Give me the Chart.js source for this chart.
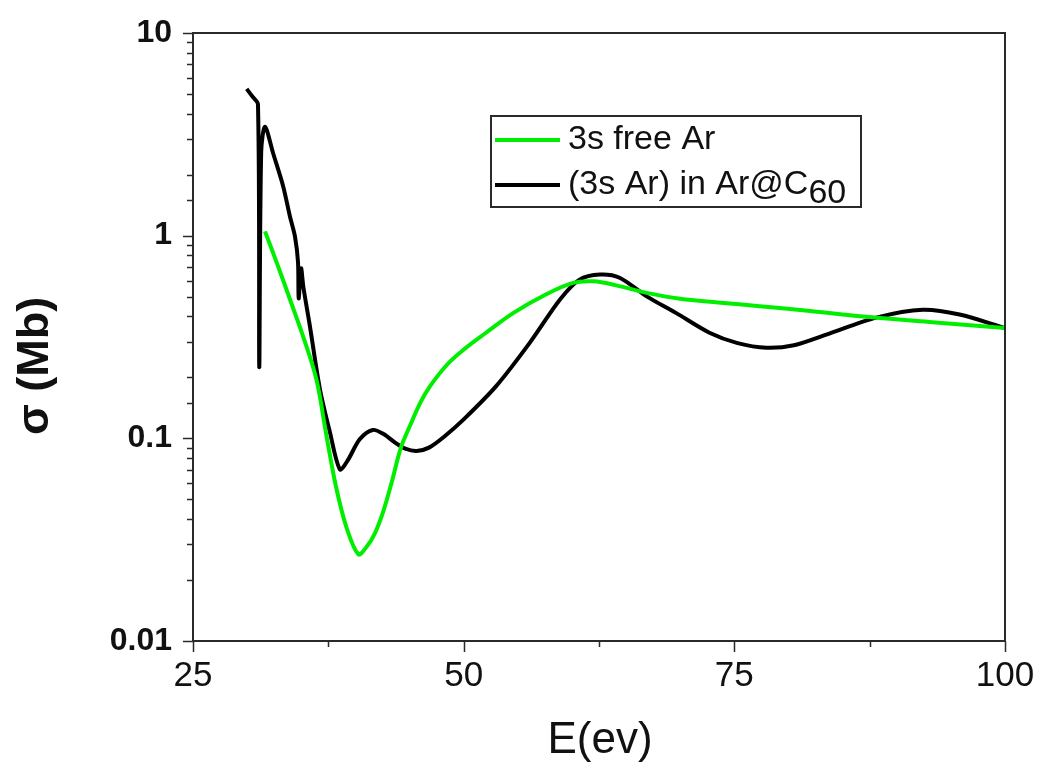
<!DOCTYPE html>
<html>
<head>
<meta charset="utf-8">
<script src="https://cdn.jsdelivr.net/npm/chart.js@4.4.1/dist/chart.umd.min.js"></script>
<style>
  html, body { margin: 0; padding: 0; background: #fff; }
  canvas { display: block; }
</style>
</head>
<body>
<canvas id="sigmaChart" width="1038" height="765"></canvas>
<script>
// photon energy (eV) and cross section (Mb)
const freeE = [31.65, 32.8, 33.96, 35.2, 36.4, 37.3, 38.2, 39.2, 40.27, 41.0, 41.8, 42.6, 43.4, 44.2, 45.0, 46.0, 46.9, 48.5, 50.0, 52.0, 54.6, 57.5, 60.1, 62.0, 64.0, 66.9, 70.0, 73.5, 77.35, 82.0, 86.6, 93.0, 100];
const freeSigma = [1.05, 0.72, 0.484, 0.315, 0.195, 0.105, 0.058, 0.036, 0.0268, 0.029, 0.034, 0.044, 0.062, 0.09, 0.114, 0.15, 0.181, 0.232, 0.274, 0.33, 0.416, 0.51, 0.585, 0.595, 0.57, 0.522, 0.488, 0.468, 0.449, 0.425, 0.40, 0.375, 0.35];

const cageE = [29.96, 30.5, 31.0, 31.12, 31.3, 31.65, 32.4, 33.33, 33.96, 34.42, 34.7, 34.76, 34.98, 35.19, 35.8, 36.73, 37.65, 38.57, 39.3, 40.4, 41.6, 42.6, 43.7, 44.6, 45.65, 46.8, 48.3, 50.0, 53.0, 56.1, 58.9, 60.7, 62.6, 64.4, 66.9, 69.6, 72.7, 75.3, 77.97, 80.5, 83.5, 88.1, 92.4, 95.8, 100];
const cageSigma = [5.3, 4.85, 4.45, 0.225, 2.6, 3.45, 2.55, 1.75, 1.24, 0.99, 0.74, 0.49, 0.69, 0.56, 0.357, 0.174, 0.107, 0.0703, 0.078, 0.099, 0.11, 0.105, 0.095, 0.089, 0.0867, 0.09, 0.103, 0.124, 0.181, 0.296, 0.484, 0.607, 0.643, 0.62, 0.502, 0.416, 0.332, 0.295, 0.28, 0.288, 0.325, 0.394, 0.431, 0.408, 0.35];

const xTickValues = [25, 50, 75, 100];
const xTickLabels = ['25', '50', '75', '100'];
const yTickValues = [0.01, 0.1, 1, 10];
const yTickLabels = ['0.01', '0.1', '1', '10'];

const seriesNames = ['3s free Ar', '(3s Ar) in Ar@C'];
const seriesSubscripts = ['', '60'];
const xTitle = 'E(ev)';
const yTitle = 'σ (Mb)';

function toPoints(xs, ys) {
    return xs.map((x, i) => ({ x: x, y: ys[i] }));
}

// box frame, outward tick marks, axis titles and the legend
const decorations = {
    id: 'decorations',
    afterDraw(chart) {
        const ctx = chart.ctx;
        const area = chart.chartArea;
        const xs = chart.scales.x;
        const ys = chart.scales.y;

        ctx.save();
        ctx.strokeStyle = '#2a2a2a';
        ctx.lineWidth = 2;
        ctx.strokeRect(area.left, area.top, area.right - area.left, area.bottom - area.top);

        ctx.lineWidth = 1.5;
        ctx.beginPath();
        ys.ticks.forEach(t => {
            const py = Math.round(ys.getPixelForValue(t.value)) + 0.5;
            const len = t.label ? 10 : 6;
            ctx.moveTo(area.left - len, py);
            ctx.lineTo(area.left, py);
        });
        xs.ticks.forEach(t => {
            const px = Math.round(xs.getPixelForValue(t.value)) + 0.5;
            const len = t.label ? 11 : 6;
            ctx.moveTo(px, area.bottom);
            ctx.lineTo(px, area.bottom + len);
        });
        ctx.stroke();

        // axis titles
        ctx.fillStyle = '#111';
        ctx.textAlign = 'center';
        ctx.textBaseline = 'middle';
        ctx.font = '44px "Liberation Sans", Arial, sans-serif';
        ctx.fillText(xTitle, 600, 741);
        ctx.save();
        ctx.translate(36, 366);
        ctx.rotate(-Math.PI / 2);
        ctx.font = 'bold 45px "Liberation Sans", Arial, sans-serif';
        ctx.fillText(yTitle, 0, 0);
        ctx.restore();

        // legend
        const box = { left: 491, top: 116, right: 861, bottom: 207 };
        ctx.fillStyle = '#fff';
        ctx.fillRect(box.left, box.top, box.right - box.left, box.bottom - box.top);
        ctx.strokeStyle = '#2a2a2a';
        ctx.lineWidth = 2;
        ctx.strokeRect(box.left, box.top, box.right - box.left, box.bottom - box.top);

        const rowY = [140, 185];
        const font = '34px "Liberation Sans", Arial, sans-serif';
        chart.data.datasets.forEach((ds, i) => {
            const y = rowY[i];
            ctx.strokeStyle = ds.borderColor;
            ctx.lineWidth = 4;
            ctx.beginPath();
            ctx.moveTo(495, y);
            ctx.lineTo(560, y);
            ctx.stroke();
            ctx.fillStyle = '#111';
            ctx.textAlign = 'left';
            ctx.textBaseline = 'middle';
            ctx.font = font;
            ctx.fillText(ds.label, 568, y);
            if (seriesSubscripts[i]) {
                const w = ctx.measureText(ds.label).width;
                ctx.fillText(seriesSubscripts[i], 568 + w, y + 9);
            }
        });
        ctx.restore();
    }
};

const ctx = document.getElementById('sigmaChart').getContext('2d');
new Chart(ctx, {
    type: 'scatter',
    data: {
        datasets: [{
            label: seriesNames[0],
            data: toPoints(freeE, freeSigma),
            borderColor: '#00ee00',
            backgroundColor: '#00ee00',
            borderWidth: 4,
            showLine: true,
            pointRadius: 0,
            tension: 0.35
        }, {
            label: seriesNames[1],
            data: toPoints(cageE, cageSigma),
            borderColor: '#000000',
            backgroundColor: '#000000',
            borderWidth: 4,
            showLine: true,
            pointRadius: 0,
            tension: 0.3
        }]
    },
    options: {
        responsive: false,
        animation: false,
        events: [],
        layout: { padding: { top: 33, right: 33, left: 0, bottom: 0 } },
        plugins: {
            legend: { display: false },
            tooltip: { enabled: false }
        },
        scales: {
            x: {
                type: 'linear',
                min: 25,
                max: 100,
                grid: { display: false, drawTicks: false },
                border: { display: false },
                afterFit: function (scale) {
                    scale.height = 124;
                    scale.paddingLeft = 0;
                    scale.paddingRight = 0;
                },
                ticks: {
                    stepSize: 12.5,
                    autoSkip: false,
                    maxRotation: 0,
                    padding: 14,
                    color: '#111',
                    font: { family: '"Liberation Sans", Arial, sans-serif', size: 35 },
                    callback: function (value) {
                        const i = xTickValues.indexOf(value);
                        return i >= 0 ? xTickLabels[i] : '';
                    }
                }
            },
            y: {
                type: 'logarithmic',
                min: 0.01,
                max: 10,
                grid: { display: false, drawTicks: false },
                border: { display: false },
                afterFit: function (scale) {
                    scale.width = 193;
                    scale.paddingTop = 0;
                    scale.paddingBottom = 0;
                },
                ticks: {
                    autoSkip: false,
                    padding: 21,
                    color: '#111',
                    font: { family: '"Liberation Sans", Arial, sans-serif', size: 32, weight: 'bold' },
                    callback: function (value) {
                        const i = yTickValues.findIndex(v => Math.abs(v - value) < v * 1e-6);
                        return i >= 0 ? yTickLabels[i] : '';
                    }
                }
            }
        }
    },
    plugins: [decorations]
});
</script>
</body>
</html>
